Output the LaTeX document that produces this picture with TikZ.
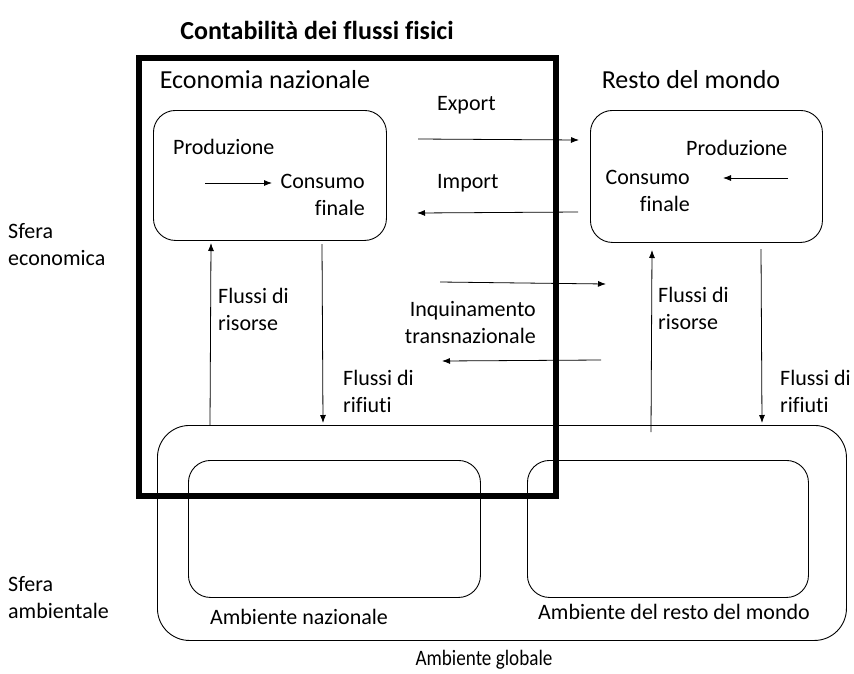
\documentclass[tikz,border=0pt]{standalone}
\usepackage{fontspec}
\setmainfont{Carlito}[Ligatures={NoCommon}]
\usetikzlibrary{arrows.meta}
\begin{document}
\begin{tikzpicture}[x=1pt,y=-1pt,
  txt/.style={font=\fontsize{22}{27}\selectfont, inner sep=0pt},
  big/.style={font=\fontsize{26}{30}\selectfont, inner sep=0pt},
  rbox/.style={draw, line width=0.9pt, rounded corners=22pt, anchor=north west, inner sep=0pt},
  flow/.style={line width=0.8pt, -{Latex[length=8pt,width=6pt]}},
  thickframe/.style={draw, line width=6pt, anchor=north west, inner sep=0pt}]
\useasboundingbox (0,0) rectangle (854,673);
% title
\node[font=\fontsize{26}{30}\selectfont\bfseries, inner sep=0pt] (title) at (317,30) {Contabilità dei flussi fisici};
% economy boxes
\node[rbox, minimum width=233pt, minimum height=130pt] (econL) at (153,110) {};
\node[rbox, minimum width=232pt, minimum height=132pt] (econR) at (590,110) {};
% environment boxes
\node[rbox, rounded corners=32pt, minimum width=689pt, minimum height=215pt] (glob) at (157,425) {};
\node[rbox, minimum width=292pt, minimum height=137pt] (envL) at (188,460) {};
\node[rbox, minimum width=281pt, minimum height=137pt] (envR) at (527,460) {};
% thick frame
\node[thickframe, minimum width=417pt, minimum height=438pt] (frame) at (136,55) {};
% headings
\node[big] (econN) at (265,80) {Economia nazionale};
\node[big] (rdm) at (691,80) {Resto del mondo};
% inside left box
\node[txt, anchor=west] (prodL) at (173,147) {Produzione};
\node[txt, anchor=east, align=right] (consL) at (365,195) {Consumo\\finale};
\coordinate (aL1) at (205,183);
\coordinate (aL2) at (272,183);
\draw[flow] (aL1) -- (aL2);
% inside right box
\node[txt, anchor=west] (prodR) at (686,148) {Produzione};
\node[txt, anchor=east, align=right] (consR) at (690,191) {Consumo\\finale};
\coordinate (aR1) at (788,178);
\coordinate (aR2) at (723,178);
\draw[flow] (aR1) -- (aR2);
% export / import
\node[txt, anchor=west] (exp) at (437,105) {Export};
\node[txt, anchor=west] (imp) at (437,183) {Import};
\coordinate (ex1) at (418,139);
\coordinate (ex2) at (579,140);
\draw[flow] (ex1) -- (ex2);
\coordinate (im1) at (578,212);
\coordinate (im2) at (417,213);
\draw[flow] (im1) -- (im2);
% transnational pollution
\coordinate (tp1) at (440,282);
\coordinate (tp2) at (606,284);
\draw[flow] (tp1) -- (tp2);
\coordinate (tp3) at (601,360);
\coordinate (tp4) at (442,361);
\draw[flow] (tp3) -- (tp4);
\node[txt, anchor=east, align=right] (inq) at (536,323) {Inquinamento\\transnazionale};
% resource / waste flows left
\coordinate (rl1) at (210,425);
\coordinate (rl2) at (211,243);
\draw[flow] (rl1) -- (rl2);
\coordinate (wl1) at (322,244);
\coordinate (wl2) at (323,423);
\draw[flow] (wl1) -- (wl2);
\node[txt, anchor=west, align=left] (frL) at (218,309) {Flussi di\\risorse};
\node[txt, anchor=west, align=left] (fwL) at (343,391) {Flussi di\\rifiuti};
% resource / waste flows right
\coordinate (rr1) at (651,432);
\coordinate (rr2) at (652,250);
\draw[flow] (rr1) -- (rr2);
\coordinate (wr1) at (761,249);
\coordinate (wr2) at (762,423);
\draw[flow] (wr1) -- (wr2);
\node[txt, anchor=west, align=left] (frR) at (658,308) {Flussi di\\risorse};
\node[txt, anchor=west, align=left] (fwR) at (780,391) {Flussi di\\rifiuti};
% side labels
\node[txt, anchor=west, align=left] (sfe) at (8,245) {Sfera\\economica};
\node[txt, anchor=west, align=left] (sfa) at (8,598) {Sfera\\ambientale};
% environment labels
\node[txt] (ambN) at (299,617) {Ambiente nazionale};
\node[txt] (ambR) at (674,612) {Ambiente del resto del mondo};
\node[txt] (ambG) at (484,660) {\scalebox{0.87}[1]{Ambiente globale}};
\end{tikzpicture}
\end{document}
